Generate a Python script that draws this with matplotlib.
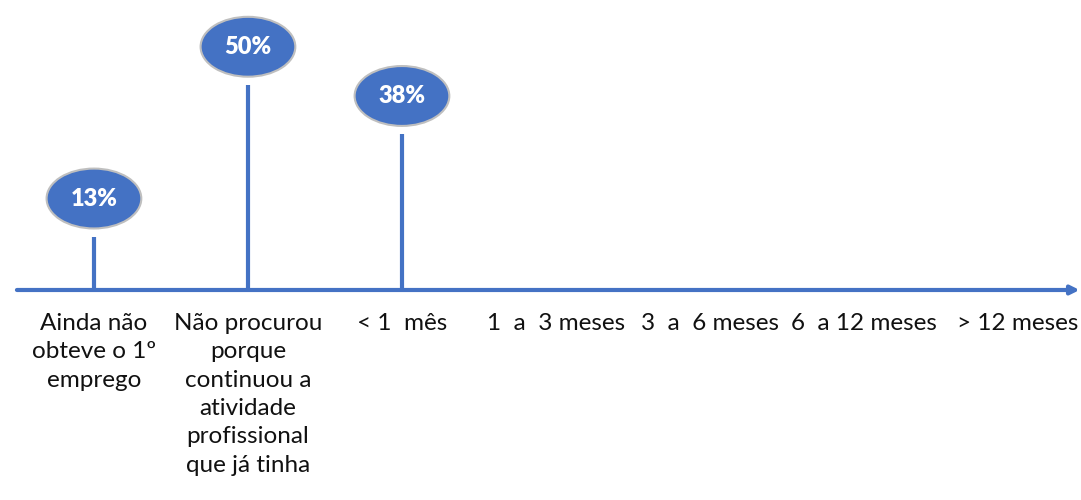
import matplotlib.pyplot as plt
from matplotlib.patches import Ellipse

# dados
categorias = ["Ainda não\nobteve o 1º\nemprego",
              "Não procurou\nporque\ncontinuou a\natividade\nprofissional\nque já tinha",
              "< 1  mês", "1  a  3 meses", "3  a  6 meses", "6  a 12 meses", "> 12 meses"]
valores = [13, 50, 38, 0, 0, 0, 0]
rotulos = ["13%", "50%", "38%", "", "", "", ""]

azul = "#4472C4"
plt.rcParams['font.family'] = ['Lato', 'DejaVu Sans']

fig = plt.figure(figsize=(10.81, 5), dpi=100)
ax = fig.add_axes([0, 0, 1, 1])
ax.set_xlim(-0.61, 6.409)
ax.set_ylim(-51.2, 70.7)
ax.axis("off")

# eixo com seta
ax.annotate("", xy=(6.4, 0), xytext=(-0.5, 0),
            arrowprops=dict(arrowstyle="-|>,head_length=0.5,head_width=0.25",
                            color=azul, lw=3, shrinkA=0, shrinkB=0))

for i, (v, r) in enumerate(zip(valores, rotulos)):
    ax.vlines(i, 0, v, color=azul, lw=3)
    if r:
        ax.add_patch(Ellipse((i, v + 9.3), 0.615, 14.6, facecolor=azul,
                             edgecolor="#BFBFBF", lw=1.5, zorder=3))
        ax.text(i, v + 9.3, r, color="white", fontsize=17, fontweight="heavy",
                ha="center", va="center", zorder=4)
    ax.text(i, -5.6, categorias[i], ha="center", va="top", fontsize=17.5,
            linespacing=1.43, color="#111111")

fig.savefig("out.png", dpi=100)
